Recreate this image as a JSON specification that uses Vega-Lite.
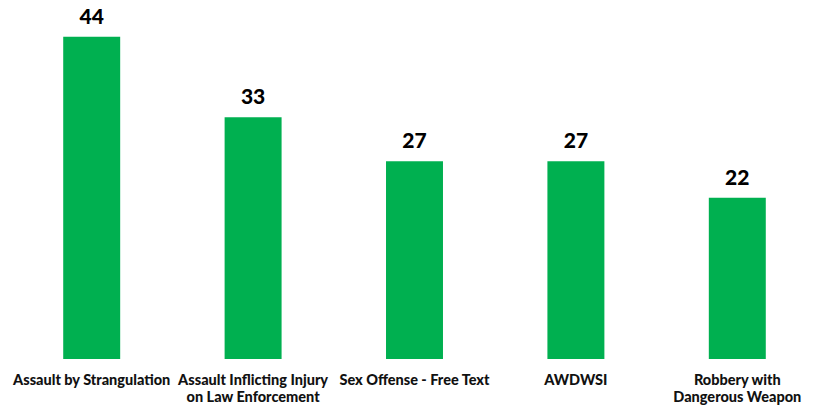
{
  "$schema": "https://vega.github.io/schema/vega-lite/v6.json",
  "autosize": "none",
  "width": 807,
  "height": 359,
  "padding": {"left": 11, "top": 0, "right": 2, "bottom": 48},
  "background": "white",
  "config": {"view": {"stroke": null}},
  "data": {
    "values": [
      {"category": "Assault by Strangulation", "count": 44},
      {"category": "Assault Inflicting Injury|on Law Enforcement", "count": 33},
      {"category": "Sex Offense - Free Text", "count": 27},
      {"category": "AWDWSI", "count": 27},
      {"category": "Robbery with|Dangerous Weapon", "count": 22}
    ]
  },
  "encoding": {
    "x": {
      "field": "category",
      "type": "nominal",
      "sort": null,
      "scale": {"paddingInner": 0.647, "paddingOuter": 0.3235},
      "axis": {
        "title": null,
        "domain": false,
        "ticks": false,
        "labelAngle": 0,
        "labelFont": "Lato",
        "labelFontWeight": 900,
        "labelFontSize": 14.5,
        "labelColor": "#111111",
        "labelPadding": 14,
        "labelLineHeight": 17,
        "labelLimit": 0,
        "labelExpr": "split(datum.label, '|')"
      }
    },
    "y": {
      "field": "count",
      "type": "quantitative",
      "scale": {"domain": [0, 49], "nice": false},
      "axis": null
    }
  },
  "layer": [
    {"mark": {"type": "bar", "color": "#00B050"}},
    {
      "mark": {
        "type": "text",
        "baseline": "bottom",
        "dy": -9,
        "font": "Lato",
        "fontWeight": 900,
        "fontSize": 21,
        "color": "#000000"
      },
      "encoding": {"text": {"field": "count", "type": "quantitative"}}
    }
  ]
}
